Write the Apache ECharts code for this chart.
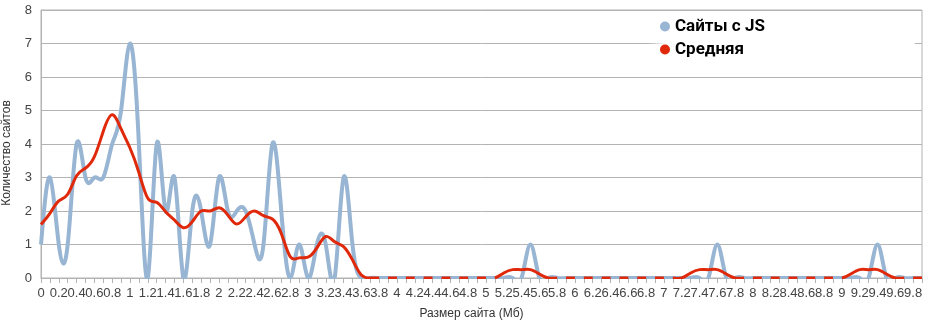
<!DOCTYPE html>
<html>
<head>
<meta charset="utf-8">
<script src="https://cdn.jsdelivr.net/npm/echarts@6/dist/echarts.min.js"></script>
<style>
html,body{margin:0;padding:0;background:#fff;}
#chart{width:930px;height:324px;}
</style>
</head>
<body>
<div id="chart"></div>
<script>
const categories = [
'0','0.1','0.2','0.3','0.4','0.5','0.6','0.7','0.8','0.9',
'1','1.1','1.2','1.3','1.4','1.5','1.6','1.7','1.8','1.9',
'2','2.1','2.2','2.3','2.4','2.5','2.6','2.7','2.8','2.9',
'3','3.1','3.2','3.3','3.4','3.5','3.6','3.7','3.8','3.9',
'4','4.1','4.2','4.3','4.4','4.5','4.6','4.7','4.8','4.9',
'5','5.1','5.2','5.3','5.4','5.5','5.6','5.7','5.8','5.9',
'6','6.1','6.2','6.3','6.4','6.5','6.6','6.7','6.8','6.9',
'7','7.1','7.2','7.3','7.4','7.5','7.6','7.7','7.8','7.9',
'8','8.1','8.2','8.3','8.4','8.5','8.6','8.7','8.8','8.9',
'9','9.1','9.2','9.3','9.4','9.5','9.6','9.7','9.8','9.9'
];
const jsSites = [
1, 3, 1, 1, 4, 3, 3, 3, 4, 5,
7, 4, 0, 4, 2, 3, 0, 2, 2, 1,
3, 2, 2, 2, 1, 1, 4, 2, 0, 1,
0, 1, 1, 0, 3, 1, 0, 0, 0, 0,
0, 0, 0, 0, 0, 0, 0, 0, 0, 0,
0, 0, 0, 0, 0, 1, 0, 0, 0, 0,
0, 0, 0, 0, 0, 0, 0, 0, 0, 0,
0, 0, 0, 0, 0, 0, 1, 0, 0, 0,
0, 0, 0, 0, 0, 0, 0, 0, 0, 0,
0, 0, 0, 0, 1, 0, 0, 0, 0, 0
];
const average = [
1.6, 1.93, 2.3, 2.5, 3.05, 3.28, 3.62, 4.38, 4.87, 4.45,
3.88, 3.15, 2.38, 2.26, 1.98, 1.73, 1.5, 1.68, 2.0, 2.0,
2.1, 1.88, 1.61, 1.83, 2.0, 1.86, 1.76, 1.33, 0.64, 0.6,
0.62, 0.9, 1.24, 1.08, 0.94, 0.54, 0.09, 0, 0, 0,
0, 0, 0, 0, 0, 0, 0, 0, 0, 0,
0, 0, 0.15, 0.25, 0.25, 0.25, 0.12, 0, 0, 0,
0, 0, 0, 0, 0, 0, 0, 0, 0, 0,
0, 0, 0, 0.15, 0.25, 0.25, 0.25, 0.12, 0, 0,
0, 0, 0, 0, 0, 0, 0, 0, 0, 0,
0, 0.12, 0.25, 0.25, 0.25, 0.12, 0, 0, 0, 0
];
const yTicks = [0, 1, 2, 3, 4, 5, 6, 7, 8];
const seriesNames = ['Сайты с JS', 'Средняя'];

const BLUE = '#98b5d3';
const RED = '#e0290a';
const GRID = '#b3b3b3';

// Natural cubic spline slopes (pixel space, uniform x spacing)
function splineSlopes(ys, h) {
  const n = ys.length;
  const a = new Array(n).fill(1), b = new Array(n).fill(4), c = new Array(n).fill(1), d = new Array(n);
  b[0] = 2; b[n - 1] = 2; a[0] = 0; c[n - 1] = 0;
  d[0] = 3 * (ys[1] - ys[0]) / h;
  d[n - 1] = 3 * (ys[n - 1] - ys[n - 2]) / h;
  for (let i = 1; i < n - 1; i++) d[i] = 3 * (ys[i + 1] - ys[i - 1]) / h;
  const cp = new Array(n), dp = new Array(n);
  cp[0] = c[0] / b[0]; dp[0] = d[0] / b[0];
  for (let i = 1; i < n; i++) {
    const m = b[i] - a[i] * cp[i - 1];
    cp[i] = c[i] / m;
    dp[i] = (d[i] - a[i] * dp[i - 1]) / m;
  }
  const s = new Array(n);
  s[n - 1] = dp[n - 1];
  for (let i = n - 2; i >= 0; i--) s[i] = dp[i] - cp[i] * s[i + 1];
  return s;
}

// builds path data; segFilter(i) decides if segment i..i+1 is drawn
function splinePath(pts, segFilter) {
  const h = pts[1][0] - pts[0][0];
  const s = splineSlopes(pts.map(p => p[1]), h);
  let dstr = '';
  let open = false;
  for (let i = 0; i < pts.length - 1; i++) {
    if (!segFilter(i)) { open = false; continue; }
    const p0 = pts[i], p1 = pts[i + 1];
    const hx = (p1[0] - p0[0]) / 3;
    if (!open) { dstr += 'M' + p0[0] + ' ' + p0[1]; open = true; }
    dstr += 'C' + (p0[0] + hx) + ' ' + (p0[1] + s[i] * hx) + ' ' +
            (p1[0] - hx) + ' ' + (p1[1] - s[i + 1] * hx) + ' ' + p1[0] + ' ' + p1[1];
  }
  return dstr;
}

function makeRender(values, color, width, zeroAlternate) {
  return function (params, api) {
    if (params.dataIndex !== 0) return null;
    const pts = values.map((v, i) => api.coord([i, v]));
    let filter = () => true;
    if (zeroAlternate) {
      // along runs of zeros the line shows only every other segment
      const runPos = [];
      let pos = -1;
      for (let i = 0; i < values.length - 1; i++) {
        if (values[i] === 0 && values[i + 1] === 0) { pos += 1; } else { pos = -1; }
        runPos.push(pos);
      }
      filter = (i) => runPos[i] < 0 || runPos[i] % 2 === 0;
    }
    const cs = params.coordSys;
    return {
      type: 'group',
      clipPath: {type: 'rect', shape: {x: cs.x - 2, y: cs.y - 2, width: cs.width + 4, height: cs.height + 3}},
      children: [{
        type: 'path',
        shape: {pathData: splinePath(pts, filter)},
        style: {fill: null, stroke: color, lineWidth: width, lineJoin: 'round', lineCap: 'butt'}
      }]
    };
  };
}

const chart = echarts.init(document.getElementById('chart'), null, {renderer: 'canvas'});
chart.setOption({
  animation: false,
  backgroundColor: '#fff',
  textStyle: {fontFamily: 'Liberation Sans'},
  grid: {
    left: 41, right: 8, top: 10, bottom: 46,
    outerBoundsMode: 'none', containLabel: false,
    show: true, borderColor: GRID, borderWidth: 1, backgroundColor: 'transparent'
  },
  legend: {
    data: seriesNames,
    orient: 'vertical',
    left: 648,
    top: 11,
    padding: [7, 150, 15, 12],
    itemGap: 6,
    itemWidth: 10,
    itemHeight: 10,
    itemTextGap: 4,
    icon: 'circle',
    backgroundColor: new echarts.graphic.LinearGradient(0, 0, 1, 0, [
      {offset: 0, color: 'rgba(255,255,255,0)'},
      {offset: 0.07, color: 'rgba(255,255,255,1)'},
      {offset: 1, color: 'rgba(255,255,255,1)'}
    ]),
    textStyle: {fontFamily: 'Roboto', fontWeight: 'bold', fontSize: 17, color: '#000'}
  },
  xAxis: {
    type: 'category',
    data: categories,
    boundaryGap: false,
    name: 'Размер сайта (Мб)',
    nameLocation: 'middle',
    nameGap: 30,
    nameTextStyle: {fontSize: 12, color: '#333', fontFamily: 'Liberation Sans', padding: [0, 20, 0, 0]},
    axisLine: {lineStyle: {color: GRID}},
    axisTick: {show: true, interval: 0, length: 5, lineStyle: {color: GRID}},
    axisLabel: {
      interval: 0,
      formatter: (value, index) => (index % 2 === 0 ? value : ''),
      fontSize: 13, color: '#444', margin: 9, fontFamily: 'Liberation Sans',
      showMaxLabel: false, showMinLabel: true
    },
    splitLine: {show: false}
  },
  yAxis: {
    type: 'value',
    min: yTicks[0],
    max: yTicks[yTicks.length - 1],
    interval: 1,
    name: 'Количество сайтов',
    nameLocation: 'middle',
    nameGap: 28,
    nameTextStyle: {fontSize: 12, color: '#333', fontFamily: 'Liberation Sans', padding: [0, 18, 0, 0]},
    axisLine: {show: true, lineStyle: {color: GRID}},
    axisTick: {show: false},
    axisLabel: {fontSize: 13, color: '#444', margin: 9, fontFamily: 'Liberation Sans'},
    splitLine: {lineStyle: {color: GRID, width: 1}}
  },
  series: [
    {
      name: seriesNames[0],
      type: 'custom',
      data: jsSites.map((v, i) => [i, v]),
      encode: {x: 0, y: 1},
      itemStyle: {color: BLUE},
      renderItem: makeRender(jsSites, BLUE, 4, false),
      z: 2
    },
    {
      name: seriesNames[1],
      type: 'custom',
      data: average.map((v, i) => [i, v]),
      encode: {x: 0, y: 1},
      itemStyle: {color: RED},
      renderItem: makeRender(average, RED, 3, true),
      z: 3
    }
  ]
});
</script>
</body>
</html>
